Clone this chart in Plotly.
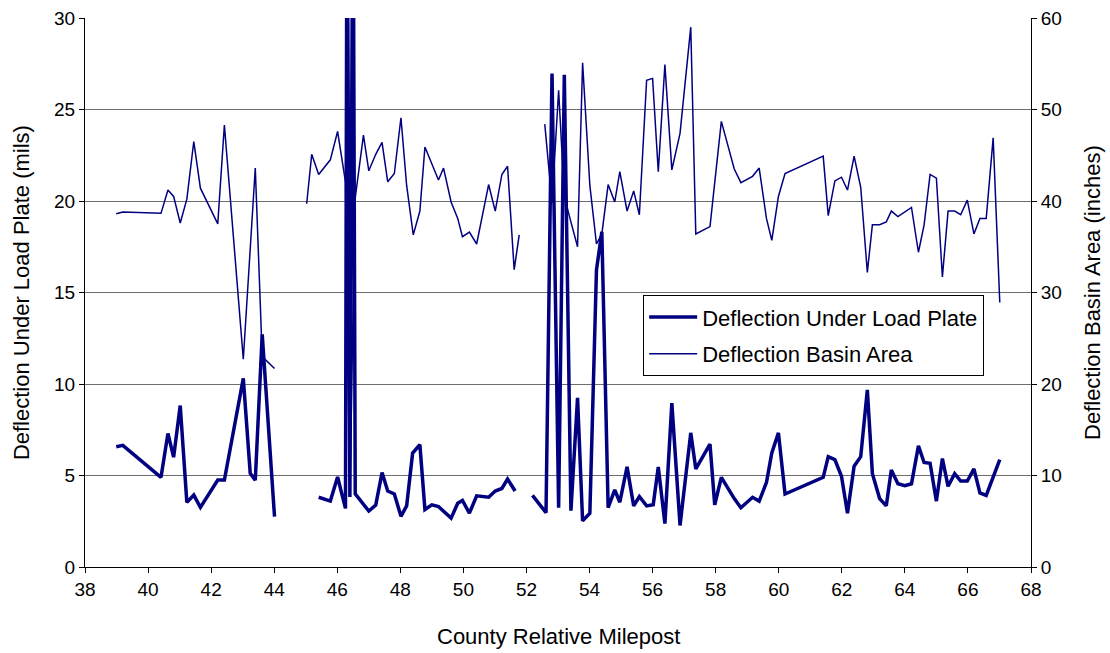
import plotly.graph_objects as go

# Milepost readings for the deflection under the load plate (mils); None breaks the line
load_milepost = [
    38.99, 39.20, 40.41, 40.63, 40.81, 41.02, 41.23, 41.45, 41.66, 42.21, 42.42,
    43.02, 43.24, 43.40, 43.62, 44.01, None,
    45.41, 45.78, 46.01, 46.26, 46.31, 46.40, 46.50, 46.57, 47.00, 47.22, 47.42,
    47.60, 47.81, 48.02, 48.20, 48.39, 48.62, 48.78, 49.00, 49.21, 49.61, 49.82,
    49.97, 50.19, 50.42, 50.80, 51.01, 51.22, 51.40, 51.64, None,
    52.19, 52.62, 52.81, 53.02, 53.20, 53.41, 53.62, 53.78, 54.01, 54.22, 54.39,
    54.59, 54.80, 54.96, 55.19, 55.40, 55.58, 55.81, 56.02, 56.18, 56.39, 56.61,
    56.87, 57.21, 57.37, 57.82, 57.97, 58.18, 58.59, 58.80, 59.17, 59.38, 59.61,
    59.78, 59.99, 60.20, 61.41, 61.57, 61.78, 61.99, 62.18, 62.39, 62.60, 62.81,
    62.97, 63.20, 63.41, 63.57, 63.78, 64.00, 64.21, 64.43, 64.61, 64.80, 65.00,
    65.19, 65.37, 65.58, 65.77, 65.98, 66.19, 66.38, 66.58, 67.01,
]
load_mils = [
    6.57, 6.65, 4.90, 7.30, 6.00, 8.82, 3.53, 3.93, 3.26, 4.75, 4.75,
    10.31, 5.12, 4.75, 12.71, 2.75, None,
    3.81, 3.60, 4.92, 3.20, 40.0, 3.82, 40.0, 4.00, 3.06, 3.38, 5.16,
    4.15, 3.99, 2.77, 3.34, 6.23, 6.68, 3.14, 3.40, 3.30, 2.67, 3.48,
    3.64, 2.94, 3.89, 3.81, 4.15, 4.29, 4.80, 4.15, None,
    3.91, 2.97, 26.96, 3.24, 26.90, 3.08, 9.24, 2.52, 2.94, 16.23, 18.32,
    3.24, 4.21, 3.54, 5.47, 3.34, 3.85, 3.34, 3.40, 5.47, 2.37, 8.95,
    2.27, 7.33, 5.36, 6.72, 3.40, 4.90, 3.74, 3.24, 3.81, 3.60, 4.62,
    6.23, 7.33, 3.99, 4.90, 6.03, 5.87, 4.96, 2.94, 5.51, 6.03, 9.68,
    5.10, 3.74, 3.34, 5.30, 4.55, 4.45, 4.55, 6.62, 5.71, 5.67, 3.60,
    5.93, 4.41, 5.10, 4.70, 4.70, 5.36, 4.05, 3.91, 5.87,
]

# Milepost readings for the deflection basin area (inches)
basin_milepost = [
    38.99, 39.20, 40.41, 40.63, 40.81, 41.02, 41.23, 41.45, 41.66, 42.21, 42.42,
    43.02, 43.40, 43.62, 44.01, None,
    45.03, 45.19, 45.41, 45.78, 46.01, 46.26, 46.40, 46.56, 46.83, 47.00, 47.22,
    47.42, 47.60, 47.81, 48.02, 48.20, 48.41, 48.62, 48.78, 49.00, 49.21, 49.37,
    49.61, 49.82, 49.97, 50.19, 50.42, 50.80, 51.01, 51.22, 51.40, 51.61, 51.77, None,
    52.58, 52.81, 53.02, 53.20, 53.38, 53.62, 53.78, 54.01, 54.22, 54.39, 54.59,
    54.80, 54.96, 55.19, 55.40, 55.58, 55.81, 56.00, 56.18, 56.39, 56.61, 56.87,
    57.21, 57.37, 57.82, 58.18, 58.59, 58.80, 59.17, 59.38, 59.61, 59.78, 59.99,
    60.20, 61.41, 61.57, 61.78, 61.99, 62.18, 62.39, 62.60, 62.81, 62.97, 63.20,
    63.41, 63.57, 63.78, 64.00, 64.21, 64.43, 64.61, 64.80, 65.00, 65.19, 65.37,
    65.58, 65.77, 65.98, 66.19, 66.38, 66.58, 66.80, 67.01,
]
basin_inches = [
    38.6, 38.8, 38.65, 41.2, 40.5, 37.6, 40.2, 46.5, 41.4, 37.5, 48.3,
    22.7, 43.6, 23.0, 21.7, None,
    39.7, 45.1, 42.9, 44.5, 47.6, 42.1, 7.7, 40.1, 47.2, 43.3, 45.1,
    46.4, 42.1, 43.0, 49.1, 41.7, 36.3, 38.9, 45.9, 44.1, 42.3, 43.6,
    39.9, 38.1, 36.1, 36.6, 35.3, 41.8, 38.9, 42.9, 43.8, 32.5, 36.3, None,
    48.4, 39.8, 52.1, 40.5, 38.1, 35.0, 55.1, 41.7, 35.3, 36.4, 41.8,
    39.9, 43.2, 38.9, 41.1, 38.5, 53.2, 53.4, 43.2, 54.9, 43.4, 47.4,
    59.0, 36.4, 37.2, 48.7, 43.5, 42.0, 42.7, 43.6, 38.1, 35.7, 40.5,
    43.0, 44.9, 38.4, 42.2, 42.6, 41.2, 44.9, 41.5, 32.2, 37.4, 37.4,
    37.7, 38.9, 38.3, 38.8, 39.3, 34.4, 37.4, 42.9, 42.5, 31.7, 38.9,
    38.9, 38.5, 40.1, 36.4, 38.1, 38.1, 46.9, 28.9,
]

x_ticks = list(range(38, 69, 2))
left_ticks = list(range(0, 31, 5))
right_ticks = list(range(0, 61, 10))

NAVY = "#000080"
FONT = "Liberation Sans, Arial, sans-serif"

fig = go.Figure()
fig.add_trace(go.Scatter(
    x=load_milepost, y=load_mils, mode="lines",
    name="Deflection Under Load Plate", legendgroup="load",
    line=dict(color=NAVY, width=3.5), connectgaps=False,
))
fig.add_trace(go.Scatter(
    x=basin_milepost, y=basin_inches, mode="lines", yaxis="y2",
    name="Deflection Basin Area", legendgroup="basin",
    line=dict(color=NAVY, width=1.5), connectgaps=False,
))

axis_title_font = dict(family=FONT, size=22, color="black")

fig.update_layout(
    width=1110, height=653,
    margin=dict(l=85, r=79, t=18, b=86),
    paper_bgcolor="white", plot_bgcolor="white",
    font=dict(family=FONT, size=19, color="black"),
    showlegend=True,
    legend=dict(
        x=0.59, y=0.495, xanchor="left", yanchor="top",
        bgcolor="white", bordercolor="black", borderwidth=1,
        font=dict(family=FONT, size=22, color="black"),
        itemwidth=48, tracegroupgap=5,
    ),
    xaxis=dict(
        range=[38, 68], tickmode="array", tickvals=x_ticks,
        ticktext=[str(v) for v in x_ticks],
        showgrid=False, zeroline=False, automargin=False,
        showline=True, linecolor="black", linewidth=1,
        ticks="outside", ticklen=5, tickcolor="black",
    ),
    yaxis=dict(
        range=[0, 30], tickmode="array", tickvals=left_ticks,
        showgrid=True, gridcolor="#6e6e6e", gridwidth=1, zeroline=False,
        automargin=False,
        showline=True, linecolor="black", linewidth=1,
        ticks="outside", ticklen=5, tickcolor="black",
    ),
    yaxis2=dict(
        range=[0, 60], tickmode="array", tickvals=right_ticks,
        overlaying="y", side="right",
        showgrid=False, zeroline=False, automargin=False,
        showline=True, linecolor="black", linewidth=1,
        ticks="outside", ticklen=5, tickcolor="black",
    ),
    annotations=[
        dict(text="County Relative Milepost", xref="paper", yref="paper",
             x=0.5, y=-0.126, xanchor="center", yanchor="middle",
             showarrow=False, font=axis_title_font),
        dict(text="Deflection Under Load Plate (mils)", xref="paper", yref="paper",
             x=-0.067, y=0.5, xanchor="center", yanchor="middle", textangle=-90,
             showarrow=False, font=axis_title_font),
        dict(text="Deflection Basin Area (inches)", xref="paper", yref="paper",
             x=1.065, y=0.5, xanchor="center", yanchor="middle", textangle=-90,
             showarrow=False, font=axis_title_font),
    ],
)

fig.write_html("out.html")
